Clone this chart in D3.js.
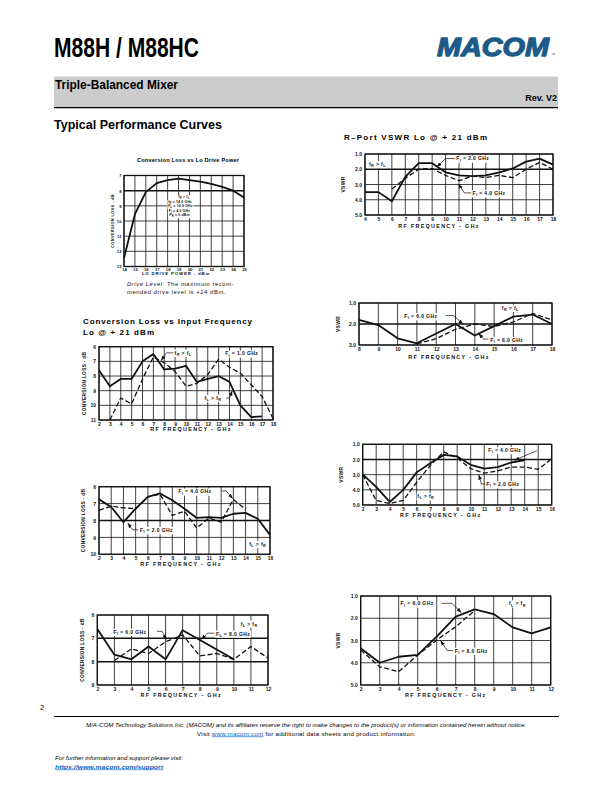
<!DOCTYPE html>
<html>
<head>
<meta charset="utf-8">
<script src="https://cdn.jsdelivr.net/npm/d3@7/dist/d3.min.js"></script>
<style>
  body { margin: 0; background: #fff; }
  svg { display: block; }
  text { font-family: "Liberation Sans", Arial, sans-serif; }
</style>
</head>
<body>
<svg id="page" width="612" height="792"></svg>
<script>
// ---- values ----

// Conversion loss vs LO drive power
const loDrivePower = [14, 15, 16, 17, 18, 19, 20, 21, 22, 23, 24, 25];
const loDriveLoss = [12.45, 9.55, 8.1, 7.5, 7.3, 7.2, 7.3, 7.4, 7.55, 7.75, 8.0, 8.45];

// R-port VSWR, 4-18 GHz
const rportFreq = [4, 5, 6, 7, 8, 9, 10, 11, 12, 13, 14, 15, 16, 17, 18];
const rportVswrIf2 = [3.5, 3.5, 4.1, 2.5, 1.6, 1.6, 2.2, 2.4, 2.45, 2.4, 2.2, 1.95, 1.5, 1.3, 1.7];
const rportFreqIf4 = [6, 7, 8, 9, 10, 11, 12, 13, 14, 15, 16, 17, 18];
const rportVswrIf4 = [3.3, 2.6, 2.0, 1.95, 2.4, 2.75, 2.45, 2.55, 2.4, 2.55, 2.0, 1.55, 2.0];

// R-port VSWR, 8-18 GHz
const rportFreqHi = [8, 9, 10, 11, 12, 13, 14, 15, 16, 17, 18];
const rportVswrIf6 = [1.8, 2.05, 2.68, 2.92, 2.45, 2.0, 2.55, 2.1, 1.65, 1.55, 2.0];
const rportFreqHiDash = [11, 12, 13, 14, 15, 16, 17, 18];
const rportVswrIf8 = [2.95, 2.7, 2.25, 2.0, 2.12, 1.9, 1.5, 1.8];

// Conversion loss vs input frequency, IF 1 GHz
const clFreq1 = [2, 3, 4, 5, 6, 7, 8, 9, 10, 11, 12, 13, 14, 15, 16, 17];
const clLossRgtL = [7.6, 8.7, 8.2, 8.2, 7.0, 6.5, 7.55, 7.5, 7.3, 8.4, 8.2, 8.0, 8.4, 10.0, 10.8, 10.75];
const clFreq1Dash = [3, 4, 5, 6, 7, 8, 9, 10, 11, 12, 13, 14, 15, 16, 17, 18];
const clLossLgtR = [11.0, 9.5, 9.9, 8.2, 6.7, 7.1, 7.7, 8.7, 8.5, 7.9, 6.85, 7.4, 7.8, 8.6, 9.4, 10.9];

// Conversion loss, IF 2 / 4 GHz
const clFreq2 = [2, 3, 4, 5, 6, 7, 8, 9, 10, 11, 12, 13, 14, 15, 16];
const clLossIf2 = [6.75, 7.2, 8.1, 7.3, 6.6, 6.4, 6.8, 7.3, 7.85, 7.8, 7.85, 7.6, 7.55, 7.9, 8.85];
const clFreq2Dash = [2, 3, 4, 5, 6, 7, 8, 9, 10, 11, 12, 13, 14];
const clLossIf4 = [7.4, 7.15, 7.25, 7.3, 6.6, 6.45, 7.7, 7.45, 8.45, 7.85, 8.1, 6.75, 7.35];

// Conversion loss, IF 6 / 8 GHz
const clFreq3 = [2, 3, 4, 5, 6, 7, 10];
const clLossIf6 = [6.6, 7.7, 7.9, 7.35, 7.9, 6.65, 7.9];
const clFreq3Dash = [3, 4, 5, 6, 7, 8, 9, 10, 11, 12];
const clLossIf8 = [7.95, 7.45, 7.65, 7.15, 6.85, 7.75, 7.65, 7.9, 7.35, 7.85];

// VSWR, 2-16 GHz
const lportFreq = [2, 3, 4, 5, 6, 7, 8, 9, 10, 11, 12, 13, 14];
const lportVswrIf4 = [2.98, 3.8, 4.8, 4.0, 2.85, 2.25, 1.7, 1.8, 2.35, 2.6, 2.5, 2.2, 2.05];
const lportFreqDash = [2, 3, 4, 5, 6, 7, 8, 9, 10, 11, 12, 13, 14, 15, 16];
const lportVswrIf2 = [3.0, 4.7, 4.9, 4.7, 3.5, 2.4, 1.5, 1.9, 2.6, 2.9, 2.75, 2.5, 2.5, 2.65, 1.95];

// VSWR, 2-12 GHz
const lportFreqLo = [2, 3, 4, 5, 6, 7, 8, 9, 10, 11, 12];
const lportVswrIf6 = [3.35, 4.0, 3.73, 3.65, 2.83, 1.93, 1.6, 1.81, 2.41, 2.68, 2.41];
const lportFreqLoDash = [2, 3, 4, 5, 6, 7, 8];
const lportVswrIf8 = [3.43, 4.18, 4.4, 3.65, 2.98, 2.38, 1.66];

// tick labels
const loDriveTicks = [14, 15, 16, 17, 18, 19, 20, 21, 22, 23, 24, 25];
const lossTicksA = [7, 8, 9, 10, 11, 12, 13];
const vswrTicks = [1, 2, 3, 4, 5];
const vswrTicksShort = [1, 2, 3];
const freqTicks4to18 = [4, 5, 6, 7, 8, 9, 10, 11, 12, 13, 14, 15, 16, 17, 18];
const freqTicks8to18 = [8, 9, 10, 11, 12, 13, 14, 15, 16, 17, 18];
const freqTicks2to18 = [2, 3, 4, 5, 6, 7, 8, 9, 10, 11, 12, 13, 14, 15, 16, 17, 18];
const freqTicks2to16 = [2, 3, 4, 5, 6, 7, 8, 9, 10, 11, 12, 13, 14, 15, 16];
const freqTicks2to12 = [2, 3, 4, 5, 6, 7, 8, 9, 10, 11, 12];
const lossTicks6to11 = [6, 7, 8, 9, 10, 11];
const lossTicks6to10 = [6, 7, 8, 9, 10];
const lossTicks6to9 = [6, 7, 8, 9];

const svg = d3.select('#page');
const INK = '#111';

svg.append('defs').append('marker')
    .attr('id', 'ah')
    .attr('viewBox', '0 0 8 6')
    .attr('refX', 8).attr('refY', 3)
    .attr('markerWidth', 5).attr('markerHeight', 4)
    .attr('markerUnits', 'userSpaceOnUse')
    .attr('orient', 'auto')
    .append('path').attr('d', 'M0,0L8,3L0,6Z').attr('fill', INK);

// "F_I" -> F with subscript I
function richText(sel, str, size) {
    let shifted = false;
    str.split(/(_\w)/).filter(Boolean).forEach(part => {
        const sub = part[0] === '_';
        const t = sel.append('tspan').text(sub ? part[1] : part);
        if (sub) {
            t.attr('dy', size * 0.25).attr('font-size', size * 0.75);
            shifted = true;
        } else if (shifted) {
            t.attr('dy', -size * 0.25);
            shifted = false;
        }
    });
}

function drawChart(c) {
    const g = svg.append('g').attr('transform', `translate(${c.x},${c.y})`);
    const x = d3.scaleLinear().domain(c.xDomain).range([0, c.w]);
    const y = d3.scaleLinear().domain(c.yDomain).range([0, c.h]);
    const heavy = c.heavy || [];

    // grid
    g.append('g').selectAll('line').data(c.xTicks).join('line')
        .attr('x1', d => x(d)).attr('x2', d => x(d))
        .attr('y1', 0).attr('y2', c.h)
        .attr('stroke', INK).attr('stroke-width', 0.8);
    g.append('g').selectAll('line').data(c.yTicks).join('line')
        .attr('x1', 0).attr('x2', c.w)
        .attr('y1', d => y(d)).attr('y2', d => y(d))
        .attr('stroke', INK).attr('stroke-width', d => heavy.includes(d) ? 1.5 : 0.8);
    g.append('rect')
        .attr('width', c.w).attr('height', c.h)
        .attr('fill', 'none').attr('stroke', INK).attr('stroke-width', 1.3);

    // axes (labels only)
    const fs = c.tickSize || 5;
    const xa = g.append('g').attr('transform', `translate(0,${c.h})`)
        .call(d3.axisBottom(x).tickValues(c.xTicks).tickSize(0).tickPadding(c.xPad || 2).tickFormat(d3.format('d')));
    const ya = g.append('g')
        .call(d3.axisLeft(y).tickValues(c.yTicks).tickSize(0).tickPadding(c.yPad || 3).tickFormat(c.yFormat || d3.format('d')));
    [xa, ya].forEach(a => {
        a.select('.domain').remove();
        a.attr('font-family', null).attr('font-size', null);
        a.selectAll('text').attr('font-size', fs).attr('font-weight', 'bold').attr('fill', INK);
    });

    // axis titles
    g.append('text')
        .attr('x', c.xTitleX).attr('y', c.h + c.xTitleDy)
        .attr('text-anchor', 'middle')
        .attr('font-size', c.titleSize || 5.4).attr('font-weight', 'bold')
        .attr('letter-spacing', c.titleSpacing || 1.3).attr('fill', INK)
        .text(c.xTitle);
    g.append('text')
        .attr('transform', `translate(${-c.yTitleDx},${c.h / 2}) rotate(-90)`)
        .attr('text-anchor', 'middle')
        .attr('font-size', c.yTitleSize || 4.6).attr('font-weight', 'bold')
        .attr('letter-spacing', 0.3).attr('fill', INK)
        .text(c.yTitle);

    // curves
    const line = d3.line().x(d => x(d[0])).y(d => y(d[1]));
    c.series.forEach(s => {
        g.append('path')
            .datum(d3.zip(s.xs, s.ys))
            .attr('d', line)
            .attr('fill', 'none').attr('stroke', INK)
            .attr('stroke-width', s.dash ? 1.3 : 1.8)
            .attr('stroke-dasharray', s.dash ? '5,2.5' : null)
            .attr('stroke-linejoin', 'round');
    });

    // callouts
    (c.notes || []).forEach(n => {
        const size = n.size || 5;
        if (n.arrow) {
            g.append('path')
                .attr('d', d3.line()(n.arrow.map(p => [x(p[0]), y(p[1])])))
                .attr('fill', 'none').attr('stroke', INK).attr('stroke-width', 0.7)
                .attr('marker-end', 'url(#ah)');
        }
        const t = g.append('text')
            .attr('x', x(n.at[0])).attr('y', y(n.at[1]))
            .attr('font-size', size).attr('font-weight', 'bold')
            .attr('letter-spacing', n.spacing == null ? 0.4 : n.spacing)
            .attr('text-anchor', n.anchor || 'start').attr('fill', INK);
        richText(t, n.text, size);
        if (n.bg !== false) {
            const bb = t.node().getBBox();
            g.insert('rect', () => t.node())
                .attr('x', bb.x - 0.8).attr('y', bb.y)
                .attr('width', bb.width + 1.6).attr('height', bb.height)
                .attr('fill', '#fff');
        }
    });
    return g;
}

// ---------- page header ----------
const narrow = '"Liberation Sans Narrow", "Liberation Sans", Arial, sans-serif';

svg.append('text')
    .attr('x', 54).attr('y', 56.5)
    .attr('font-family', narrow).attr('font-weight', 'bold').attr('font-size', 28)
    .attr('textLength', 145).attr('lengthAdjust', 'spacingAndGlyphs')
    .text('M88H / M88HC');

svg.append('text')
    .attr('x', 437).attr('y', 55.5)
    .attr('font-weight', 900).attr('font-style', 'italic').attr('font-size', 26)
    .attr('fill', '#1c5b88').attr('stroke', '#1c5b88').attr('stroke-width', 1.3)
    .attr('stroke-linejoin', 'round')
    .attr('textLength', 112).attr('lengthAdjust', 'spacingAndGlyphs')
    .text('MACOM');
svg.append('text')
    .attr('x', 551).attr('y', 56)
    .attr('font-size', 4.5).attr('fill', '#1c5b88')
    .text('™');

svg.append('rect')
    .attr('x', 54).attr('y', 76.5).attr('width', 504).attr('height', 31)
    .attr('fill', '#cccccc');
svg.append('line')
    .attr('x1', 54).attr('x2', 558).attr('y1', 107.6).attr('y2', 107.6)
    .attr('stroke', '#000').attr('stroke-width', 1.2);

svg.append('text')
    .attr('x', 55).attr('y', 88.5)
    .attr('font-family', narrow).attr('font-weight', 'bold').attr('font-size', 12)
    .attr('textLength', 123).attr('lengthAdjust', 'spacingAndGlyphs')
    .text('Triple-Balanced Mixer');
svg.append('text')
    .attr('x', 557).attr('y', 101)
    .attr('text-anchor', 'end')
    .attr('font-family', narrow).attr('font-weight', 'bold').attr('font-size', 9)
    .text('Rev.  V2');
svg.append('text')
    .attr('x', 54).attr('y', 128.5)
    .attr('font-family', narrow).attr('font-weight', 'bold').attr('font-size', 13)
    .attr('textLength', 168).attr('lengthAdjust', 'spacingAndGlyphs')
    .text('Typical Performance Curves');

// ---------- chart titles ----------
svg.append('text')
    .attr('x', 137).attr('y', 161.5)
    .attr('font-size', 5.6).attr('font-weight', 'bold')
    .attr('textLength', 102).attr('lengthAdjust', 'spacing')
    .text('Conversion Loss vs Lo Drive Power');

svg.append('text')
    .attr('x', 344).attr('y', 139.5)
    .attr('font-size', 8).attr('font-weight', 'bold')
    .attr('textLength', 143).attr('lengthAdjust', 'spacing')
    .text('R–Port VSWR Lo @ + 21 dBm');

svg.append('text')
    .attr('x', 83).attr('y', 323.5)
    .attr('font-size', 8).attr('font-weight', 'bold')
    .attr('textLength', 169).attr('lengthAdjust', 'spacing')
    .text('Conversion Loss vs Input Frequency');
svg.append('text')
    .attr('x', 83).attr('y', 334.5)
    .attr('font-size', 8).attr('font-weight', 'bold')
    .attr('textLength', 71).attr('lengthAdjust', 'spacing')
    .text('Lo  @ + 21 dBm');

// ---------- charts ----------
drawChart({
    x: 124, y: 175.5, w: 120, h: 91,
    xDomain: [14, 25], yDomain: [7, 13],
    xTicks: loDriveTicks, yTicks: lossTicksA, heavy: [8],
    tickSize: 4.2, xPad: 1.5, yPad: 2.5,
    xTitle: 'LO DRIVE POWER - dBm', xTitleX: 52, xTitleDy: 8.5, titleSize: 4.4, titleSpacing: 0.8,
    yTitle: 'CONVERSION LOSS - dB', yTitleDx: 10, yTitleSize: 4,
    series: [{ xs: loDrivePower, ys: loDriveLoss }],
    notes: [
        { text: 'f_R > f_L', at: [19.0, 8.5], size: 3.5, spacing: 0.15 },
        { text: 'f_R = 14.0 GHz', at: [18.05, 8.8], size: 3.5, spacing: 0.15 },
        { text: 'F_L = 10.0 GHz', at: [18.05, 9.1], size: 3.5, spacing: 0.15 },
        { text: 'F_I = 4.0 GHz', at: [18.1, 9.4], size: 3.5, spacing: 0.15 },
        { text: 'P_R = 0 dBm', at: [18.15, 9.7], size: 3.5, spacing: 0.15 }
    ]
});

// drive level caption
const cap = svg.append('text')
    .attr('x', 127).attr('y', 286)
    .attr('font-size', 5.8).attr('letter-spacing', 0.6).attr('fill', INK);
cap.append('tspan').attr('font-style', 'italic').text('Drive Level:');
cap.append('tspan').text('   The maximum recom-');
svg.append('text')
    .attr('x', 127).attr('y', 293.5)
    .attr('font-size', 5.8).attr('letter-spacing', 0.6).attr('fill', INK)
    .text('mended drive level is +24 dBm.');

drawChart({
    x: 365, y: 154, w: 188, h: 61,
    xDomain: [4, 18], yDomain: [1, 5],
    xTicks: freqTicks4to18, yTicks: vswrTicks, heavy: [2],
    yFormat: d3.format('.1f'), tickSize: 5,
    xTitle: 'RF FREQUENCY - GHz', xTitleX: 74, xTitleDy: 12.8,
    yTitle: 'VSWR', yTitleDx: 20, yTitleSize: 5,
    series: [
        { xs: rportFreq, ys: rportVswrIf2 },
        { xs: rportFreqIf4, ys: rportVswrIf4, dash: true }
    ],
    notes: [
        { text: 'f_R > f_L', at: [4.3, 1.78] },
        { text: 'F_I = 2.0 GHz', at: [10.8, 1.42], arrow: [[10.7, 1.3], [10.0, 1.3], [9.35, 1.85]] },
        { text: 'F_I = 4.0 GHz', at: [12.0, 3.7], arrow: [[11.9, 3.55], [11.4, 3.55], [10.95, 2.95]] }
    ]
});

drawChart({
    x: 359, y: 303, w: 193, h: 42,
    xDomain: [8, 18], yDomain: [1, 3],
    xTicks: freqTicks8to18, yTicks: vswrTicksShort, heavy: [2],
    yFormat: d3.format('.1f'), tickSize: 5,
    xTitle: 'RF FREQUENCY - GHz', xTitleX: 90, xTitleDy: 13.5,
    yTitle: 'VSWR', yTitleDx: 19, yTitleSize: 5,
    series: [
        { xs: rportFreqHi, ys: rportVswrIf6 },
        { xs: rportFreqHiDash, ys: rportVswrIf8, dash: true }
    ],
    notes: [
        { text: 'F_I = 6.0 GHz', at: [10.35, 1.72], arrow: [[12.5, 1.6], [12.9, 1.6], [13.4, 2.02]] },
        { text: 'f_R > f_L', at: [15.4, 1.32] },
        { text: 'F_I = 8.0 GHz', at: [14.8, 2.85], arrow: [[14.7, 2.72], [14.45, 2.72], [14.2, 2.45]] }
    ]
});

drawChart({
    x: 99, y: 346.7, w: 174, h: 73.3,
    xDomain: [2, 18], yDomain: [6, 11],
    xTicks: freqTicks2to18, yTicks: lossTicks6to11,
    tickSize: 5,
    xTitle: 'RF FREQUENCY - GHz', xTitleX: 92, xTitleDy: 11,
    yTitle: 'CONVERSION LOSS - dB', yTitleDx: 13, yTitleSize: 4.8,
    series: [
        { xs: clFreq1, ys: clLossRgtL },
        { xs: clFreq1Dash, ys: clLossLgtR, dash: true }
    ],
    notes: [
        { text: 'f_R > f_L', at: [8.95, 6.55], arrow: [[8.85, 6.42], [8.2, 6.42], [7.7, 6.95]] },
        { text: 'F_I = 1.0 GHz', at: [13.6, 6.6] },
        { text: 'f_L > f_R', at: [11.7, 9.62], arrow: [[13.7, 9.5], [14.0, 9.5], [14.25, 9.0]] }
    ]
});

drawChart({
    x: 99, y: 486.7, w: 171, h: 67.6,
    xDomain: [2, 16], yDomain: [6, 10],
    xTicks: freqTicks2to16, yTicks: lossTicks6to10, heavy: [8],
    tickSize: 5,
    xTitle: 'RF FREQUENCY - GHz', xTitleX: 82, xTitleDy: 11.5,
    yTitle: 'CONVERSION LOSS - dB', yTitleDx: 14, yTitleSize: 4.8,
    series: [
        { xs: clFreq2, ys: clLossIf2 },
        { xs: clFreq2Dash, ys: clLossIf4, dash: true }
    ],
    notes: [
        { text: 'F_I = 4.0 GHz', at: [8.5, 6.4], arrow: [[12.05, 6.25], [12.4, 6.25], [12.95, 6.7]] },
        { text: 'F_I = 2.0 GHz', at: [5.35, 8.68], arrow: [[5.2, 8.55], [4.75, 8.55], [4.35, 8.15]] },
        { text: 'f_L > f_R', at: [14.3, 9.5] }
    ]
});

drawChart({
    x: 97.3, y: 615, w: 170.7, h: 70,
    xDomain: [2, 12], yDomain: [6, 9],
    xTicks: freqTicks2to12, yTicks: lossTicks6to9, heavy: [7, 8],
    tickSize: 5,
    xTitle: 'RF FREQUENCY - GHz', xTitleX: 84, xTitleDy: 12,
    yTitle: 'CONVERSION LOSS - dB', yTitleDx: 13, yTitleSize: 4.8,
    series: [
        { xs: clFreq3, ys: clLossIf6 },
        { xs: clFreq3Dash, ys: clLossIf8, dash: true }
    ],
    notes: [
        { text: 'F_I = 6.0 GHz', at: [2.95, 6.8], arrow: [[5.5, 6.7], [5.8, 6.7], [6.05, 7.05]] },
        { text: 'F_L = 8.0 GHz', at: [8.95, 6.88], arrow: [[8.85, 6.78], [8.45, 6.78], [8.1, 7.05]] },
        { text: 'f_L > f_R', at: [10.4, 6.45] }
    ]
});

drawChart({
    x: 362.7, y: 444.3, w: 189, h: 60.7,
    xDomain: [2, 16], yDomain: [1, 5],
    xTicks: freqTicks2to16, yTicks: vswrTicks, heavy: [2],
    yFormat: d3.format('.1f'), tickSize: 5,
    xTitle: 'RF FREQUENCY - GHz', xTitleX: 78, xTitleDy: 12.5,
    yTitle: 'VSWR', yTitleDx: 20, yTitleSize: 5,
    series: [
        { xs: lportFreq, ys: lportVswrIf4 },
        { xs: lportFreqDash, ys: lportVswrIf2, dash: true }
    ],
    notes: [
        { text: 'F_I = 4.0 GHz', at: [11.3, 1.5], arrow: [[14.9, 1.42], [13.25, 2.05]] },
        { text: 'F_I = 2.0 GHz', at: [11.15, 3.75], arrow: [[11.05, 3.62], [10.8, 3.62], [10.6, 3.0]] },
        { text: 'f_L > f_R', at: [6.05, 4.55] }
    ]
});

drawChart({
    x: 360.7, y: 596, w: 190, h: 89,
    xDomain: [2, 12], yDomain: [1, 5],
    xTicks: freqTicks2to12, yTicks: vswrTicks,
    yFormat: d3.format('.1f'), tickSize: 5,
    xTitle: 'RF FREQUENCY - GHz', xTitleX: 85, xTitleDy: 11.5,
    yTitle: 'VSWR', yTitleDx: 21, yTitleSize: 5,
    series: [
        { xs: lportFreqLo, ys: lportVswrIf6 },
        { xs: lportFreqLoDash, ys: lportVswrIf8, dash: true }
    ],
    notes: [
        { text: 'F_I = 6.0 GHz', at: [4.1, 1.42], arrow: [[6.25, 1.33], [6.8, 1.33], [7.3, 1.75]] },
        { text: 'F_I = 8.0 GHz', at: [6.95, 3.55], arrow: [[6.85, 3.45], [6.55, 3.45], [6.2, 3.0]] },
        { text: 'f_L > f_R', at: [9.8, 1.42] }
    ]
});

// ---------- footer ----------
svg.append('text').attr('x', 40).attr('y', 709.5).attr('font-size', 7.5).text('2');
svg.append('line')
    .attr('x1', 54).attr('x2', 559).attr('y1', 716.5).attr('y2', 716.5)
    .attr('stroke', '#000').attr('stroke-width', 1);

svg.append('text')
    .attr('x', 306).attr('y', 727).attr('text-anchor', 'middle')
    .attr('font-size', 6.2).attr('font-style', 'italic')
    .attr('textLength', 440).attr('lengthAdjust', 'spacingAndGlyphs')
    .text('M/A-COM Technology Solutions Inc. (MACOM) and its affiliates reserve the right to make changes to the product(s) or information contained herein without notice.');

const visit = svg.append('text')
    .attr('x', 197).attr('y', 735.5)
    .attr('font-size', 6.2).attr('letter-spacing', 0.25);
visit.append('tspan').text('Visit ');
visit.append('tspan').attr('fill', '#0563c1').attr('text-decoration', 'underline').text('www.macom.com');
visit.append('tspan').text(' for additional data sheets and product information.');

svg.append('text')
    .attr('x', 55).attr('y', 760)
    .attr('font-size', 6).attr('font-style', 'italic')
    .attr('textLength', 128).attr('lengthAdjust', 'spacingAndGlyphs')
    .text('For further information and support please visit:');
svg.append('text')
    .attr('x', 55).attr('y', 768.5)
    .attr('font-size', 6.2).attr('font-style', 'italic').attr('font-weight', 'bold')
    .attr('fill', '#0563c1').attr('text-decoration', 'underline')
    .attr('textLength', 108).attr('lengthAdjust', 'spacingAndGlyphs')
    .text('https://www.macom.com/support');
</script>
</body>
</html>
